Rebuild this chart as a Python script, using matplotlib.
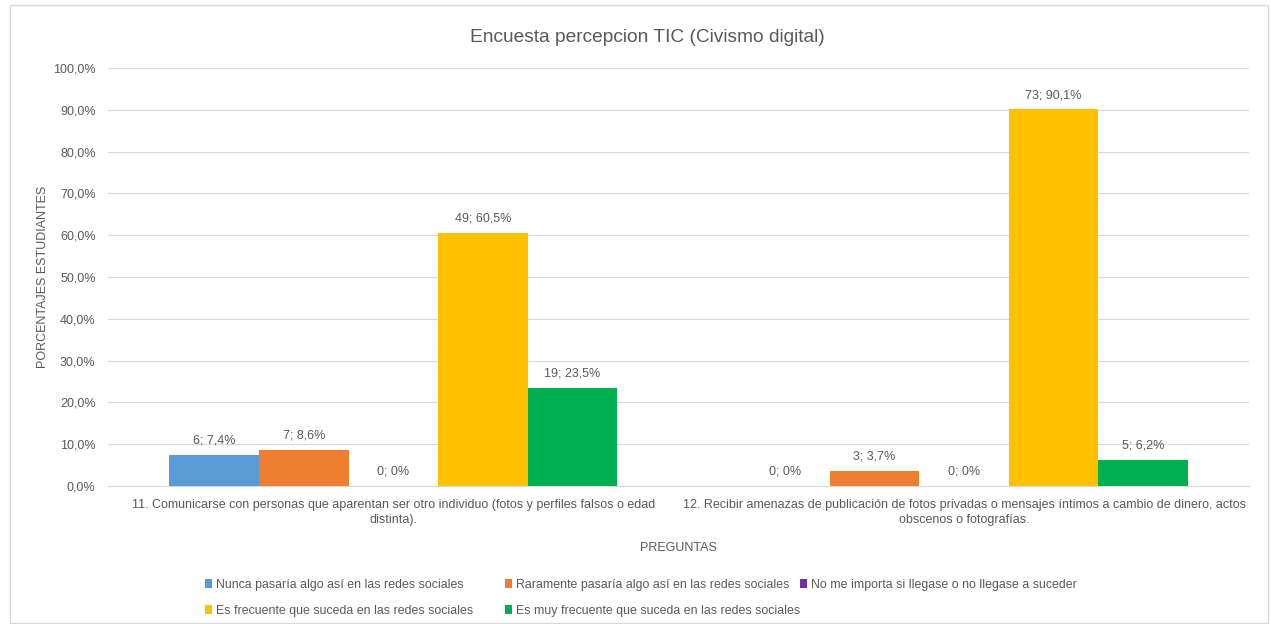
import matplotlib.pyplot as plt
from matplotlib.patches import Rectangle
from matplotlib.ticker import FuncFormatter
import numpy as np

plt.rcParams['font.family'] = ['Liberation Sans', 'DejaVu Sans']

categories = ["11. Comunicarse con personas que aparentan ser otro individuo (fotos y perfiles falsos o edad\ndistinta).",
              "12. Recibir amenazas de publicación de fotos privadas o mensajes íntimos a cambio de dinero, actos\nobscenos o fotografías."]
series = ["Nunca pasaría algo así en las redes sociales",
          "Raramente pasaría algo así en las redes sociales",
          "No me importa si llegase o no llegase a suceder",
          "Es frecuente que suceda en las redes sociales",
          "Es muy frecuente que suceda en las redes sociales"]
counts = [[6, 0], [7, 3], [0, 0], [49, 73], [19, 5]]
percents = [[7.4, 0.0], [8.6, 3.7], [0.0, 0.0], [60.5, 90.1], [23.5, 6.2]]
colors = ["#5B9BD5", "#ED7D31", "#7030A0", "#FFC000", "#00B050"]

txt = "#595959"
W, H = 1271, 624
fig = plt.figure(figsize=(W / 100, H / 100), dpi=100)
ax = fig.add_axes([0.085, 0.221, 0.898, 0.670])
fig.patches.append(Rectangle((0.008, 0.002), 0.99, 0.99, transform=fig.transFigure,
                             fill=False, edgecolor="#D9D9D9", linewidth=1))

x = np.arange(len(categories))
w = 0.157
handles = []
for i, name in enumerate(series):
    pos = x + (i - 2) * w
    b = ax.bar(pos, percents[i], width=w, color=colors[i], label=name, zorder=3)
    handles.append(b)
    for xp, c, p in zip(pos, counts[i], percents[i]):
        ptxt = "0%" if p == 0 else f"{p:.1f}".replace(".", ",") + "%"
        ax.annotate(f"{c}; {ptxt}", (xp, p), xytext=(0, 6), textcoords="offset points",
                    ha="center", va="bottom", fontsize=9, color=txt)

ax.set_xlim(-0.5, 1.5)
ax.set_ylim(0, 100)
ax.set_yticks(np.arange(0, 101, 10))
ax.yaxis.set_major_formatter(FuncFormatter(lambda v, _: f"{v:.1f}".replace(".", ",") + "%"))
ax.set_xticks(x)
ax.set_xticklabels(categories, fontsize=9, color=txt, linespacing=1.35)
ax.tick_params(axis="y", labelsize=9, labelcolor=txt, length=0, pad=9)
ax.tick_params(axis="x", length=0, pad=9)
ax.grid(axis="y", color="#D9D9D9", linewidth=0.8, zorder=0)
for s in ["top", "right", "left"]:
    ax.spines[s].set_visible(False)
ax.spines["bottom"].set_color("#D9D9D9")

fig.text(0.509, 1 - 37 / H, "Encuesta percepcion TIC (Civismo digital)", fontsize=13.8,
         color=txt, ha="center", va="center")
ax.set_ylabel("PORCENTAJES ESTUDIANTES", fontsize=9, color=txt, labelpad=3)
ax.set_xlabel("PREGUNTAS", fontsize=9, color=txt, labelpad=12)

# legend entries placed like the Excel layout (two rows)
leg_pos = [(205, 585), (505, 585), (800, 585), (205, 611), (505, 611)]
for h, name, (lx, ly) in zip(handles, series, leg_pos):
    fig.legend([h], [name], loc="center left", bbox_to_anchor=(lx / W, 1 - ly / H),
               frameon=False, fontsize=8.9, labelcolor=txt, handlelength=0.55,
               handleheight=0.75, handletextpad=0.35, borderpad=0, borderaxespad=0)

fig.savefig("out.png", dpi=100)
